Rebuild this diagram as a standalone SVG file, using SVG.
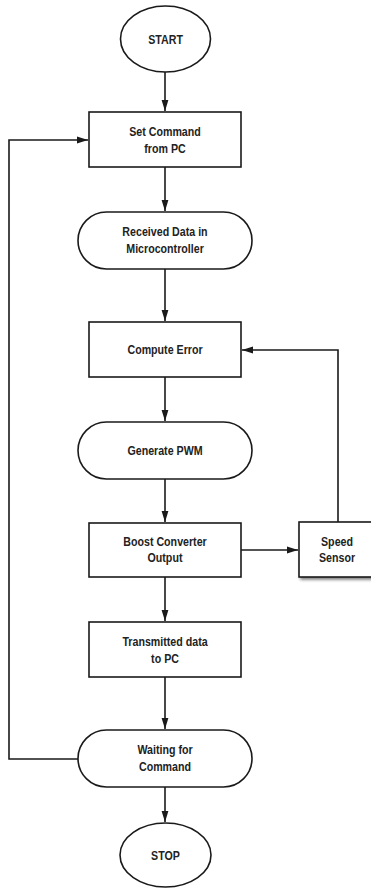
<svg xmlns="http://www.w3.org/2000/svg" width="371" height="888" viewBox="0 0 371 888">
<defs>
<marker id="arr" markerWidth="11" markerHeight="8" refX="11" refY="4" orient="auto" markerUnits="userSpaceOnUse">
<path d="M0,0.6 L11,4 L0,7.4 Z" fill="#1a1a1a"/>
</marker>
<filter id="sh" x="-10%" y="-10%" width="130%" height="140%">
<feGaussianBlur in="SourceAlpha" stdDeviation="1.5"/>
<feOffset dx="2" dy="2"/>
<feComponentTransfer><feFuncA type="linear" slope="0.5"/></feComponentTransfer>
<feMerge><feMergeNode/><feMergeNode in="SourceGraphic"/></feMerge>
</filter>
</defs>
<style>
.s{fill:#fff;stroke:#1a1a1a;stroke-width:1.6}
.t{font-family:"Liberation Sans",Arial,sans-serif;font-weight:bold;font-size:13px;fill:#222;text-anchor:middle;transform-box:fill-box;transform-origin:center;transform:scaleX(0.82)}
.c{fill:none;stroke:#1a1a1a;stroke-width:1.6}
</style>
<rect width="371" height="888" fill="#fff"/>
<g id="connectors">
<path class="c" d="M165,72 V111" marker-end="url(#arr)"/>
<path class="c" d="M165,167 V211" marker-end="url(#arr)"/>
<path class="c" d="M165,269 V321" marker-end="url(#arr)"/>
<path class="c" d="M165,377 V421" marker-end="url(#arr)"/>
<path class="c" d="M165,479 V522" marker-end="url(#arr)"/>
<path class="c" d="M165,577 V621" marker-end="url(#arr)"/>
<path class="c" d="M165,677 V729" marker-end="url(#arr)"/>
<path class="c" d="M165,787 V822" marker-end="url(#arr)"/>
<path class="c" d="M241,550 H298" marker-end="url(#arr)"/>
<path class="c" d="M338,522 V350 H242" marker-end="url(#arr)"/>
<path class="c" d="M78,759 H9 V140 H88" marker-end="url(#arr)"/>
</g>
<g id="start">
<ellipse class="s" cx="165.5" cy="39" rx="45" ry="33"/>
<text class="t" x="165.5" y="44">START</text>
</g>
<g id="set-command">
<rect class="s" x="89" y="112" width="152" height="55"/>
<text class="t" x="165" y="136">Set Command</text>
<text class="t" x="165" y="153">from PC</text>
</g>
<g id="received-data">
<rect class="s" x="78" y="212" width="174" height="57" rx="28.5"/>
<text class="t" x="165" y="236">Received Data in</text>
<text class="t" x="165" y="253">Microcontroller</text>
</g>
<g id="compute-error">
<rect class="s" x="89" y="322" width="152" height="55"/>
<text class="t" x="165" y="354">Compute Error</text>
</g>
<g id="generate-pwm">
<rect class="s" x="78" y="422" width="174" height="57" rx="28.5"/>
<text class="t" x="165" y="455">Generate PWM</text>
</g>
<g id="boost-converter">
<rect class="s" x="89" y="523" width="152" height="54"/>
<text class="t" x="165" y="546">Boost Converter</text>
<text class="t" x="165" y="562">Output</text>
</g>
<g id="speed-sensor">
<rect class="s" x="299" y="522" width="80" height="55" filter="url(#sh)"/>
<text class="t" x="337" y="546">Speed</text>
<text class="t" x="337" y="562">Sensor</text>
</g>
<g id="transmitted-data">
<rect class="s" x="89" y="622" width="152" height="55"/>
<text class="t" x="165" y="646">Transmitted data</text>
<text class="t" x="165" y="663">to PC</text>
</g>
<g id="waiting">
<rect class="s" x="78" y="730" width="174" height="57" rx="28.5"/>
<text class="t" x="165" y="754">Waiting for</text>
<text class="t" x="165" y="771">Command</text>
</g>
<g id="stop">
<ellipse class="s" cx="165.5" cy="855" rx="45.5" ry="32"/>
<text class="t" x="165.5" y="860">STOP</text>
</g>
</svg>
